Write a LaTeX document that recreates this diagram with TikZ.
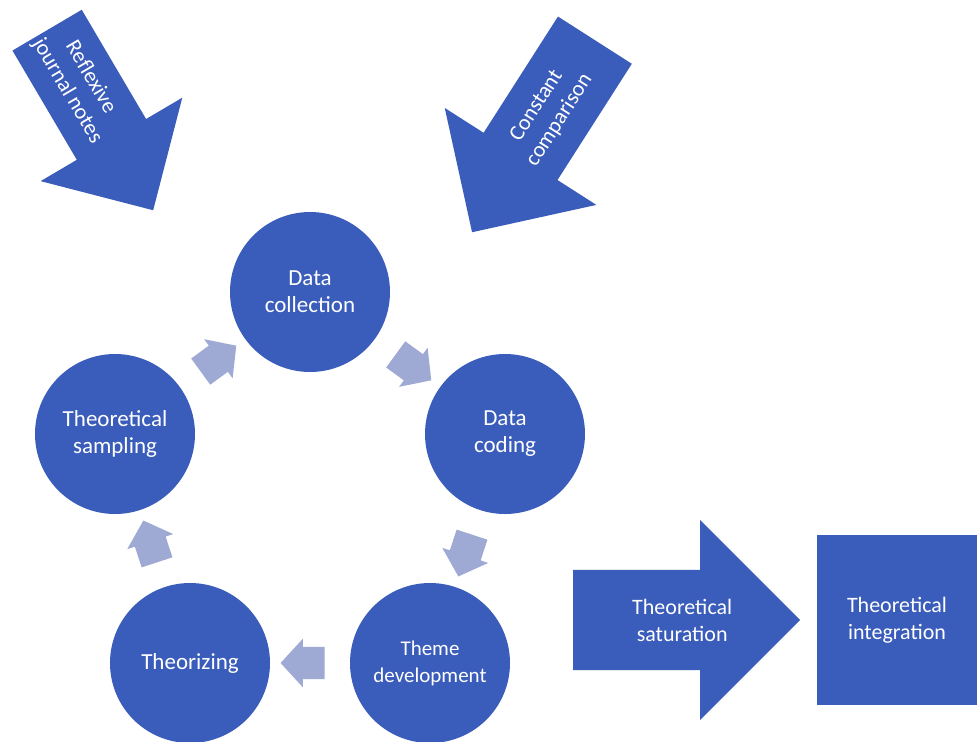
\documentclass[tikz,border=0pt]{standalone}
\usepackage{fontspec}
\setmainfont{Carlito}
\usepackage{tikz}
\usetikzlibrary{shapes,shapes.arrows,positioning,calc}
\usepackage{xcolor}
\definecolor{stageblue}{RGB}{58, 92, 186}
\definecolor{linkgray}{RGB}{158, 170, 212}

\begin{document}
\begin{tikzpicture}[
    x=1pt, y=-1pt,
    stage/.style={circle, fill=stageblue, minimum size=160pt, inner sep=0pt, align=center, text=white, font=\fontsize{23}{27}\selectfont},
    cyclearrow/.style={single arrow, fill=linkgray, minimum height=44pt, minimum width=48pt, inner xsep=0pt, inner ysep=16pt, single arrow head extend=8pt, single arrow tip angle=95, sloped, allow upside down},
    bigarrow/.style={single arrow, fill=stageblue, inner xsep=0pt, single arrow tip angle=90},
    arrowtext/.style={align=center, text=white, inner sep=0pt, font=\fontsize{22}{27}\selectfont},
    outcome/.style={rectangle, fill=stageblue, minimum width=160pt, minimum height=170pt, inner sep=0pt, align=center, text=white, font=\fontsize{22}{27}\selectfont}
]
    \useasboundingbox (0,0) rectangle (978,742);

    % Cycle stages
    \node[stage] (dcol) at (310, 292) {Data\\collection};
    \node[stage] (dcod) at (505, 434) {Data\\coding};
    \node[stage, font=\fontsize{21}{27}\selectfont] (theme) at (430, 663) {Theme\\development};
    \node[stage] (theo) at (190, 663) {Theorizing};
    \node[stage] (samp) at (115, 434) {Theoretical\\sampling};

    % Cycle arrows
    \path (dcol) -- node[cyclearrow] {} (dcod);
    \path (dcod) -- node[cyclearrow] {} (theme);
    \path (theme) -- node[cyclearrow] {} (theo);
    \path (theo) -- node[cyclearrow] {} (samp);
    \path (samp) -- node[cyclearrow] {} (dcol);

    % Inputs
    \node[bigarrow, rotate=-59.5, anchor=tail, inner ysep=40pt, minimum height=209pt, minimum width=164pt, single arrow head extend=42pt] (refl) at (47, 30) {};
    \node[arrowtext, rotate=-59.5] (refltext) at ($(refl.tail)!0.3!(refl.tip)$) {Reflexive\\journal notes};
    \node[bigarrow, rotate=57.4, shape border rotate=180, anchor=tail, inner ysep=43.5pt, minimum height=228pt, minimum width=180pt, single arrow head extend=46pt] (comp) at (595, 40) {};
    \node[arrowtext, rotate=57.4] (comptext) at ($(comp.tail)!0.38!(comp.tip)$) {Constant\\comparison};

    % Outcome
    \node[bigarrow, anchor=tail, inner ysep=50pt, minimum height=227pt, minimum width=200pt, single arrow head extend=50pt] (sat) at (573, 620) {};
    \node[arrowtext] (sattext) at ($(sat.tail)!0.48!(sat.tip)$) {Theoretical\\saturation};
    \node[outcome] (integ) at (897, 620) {Theoretical\\integration};
\end{tikzpicture}
\end{document}
